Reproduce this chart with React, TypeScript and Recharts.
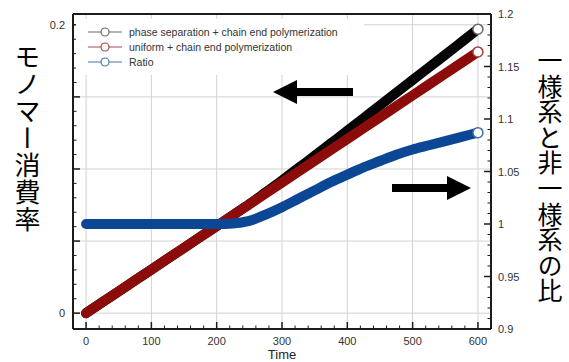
import React from 'react';
import { LineChart, Line, XAxis, YAxis, CartesianGrid, Legend } from 'recharts';

// time axis (every 25)
const times = [0, 25, 50, 75, 100, 125, 150, 175, 200, 225, 250, 275, 300, 325, 350, 375, 400, 425, 450, 475, 500, 525, 550, 575, 600];

// monomer consumption, phase separation + chain end polymerization
const phaseSeparation = [0, 0.0076, 0.0151, 0.0227, 0.0302, 0.0378, 0.0453, 0.0529, 0.0604, 0.068, 0.0757, 0.0838, 0.092, 0.1006, 0.1091, 0.1178, 0.1265, 0.1353, 0.1441, 0.153, 0.1617, 0.1705, 0.1792, 0.1881, 0.197];

// monomer consumption, uniform + chain end polymerization
const uniform = [0, 0.0076, 0.0151, 0.0227, 0.0302, 0.0378, 0.0453, 0.0529, 0.0604, 0.068, 0.0755, 0.0831, 0.0906, 0.0982, 0.1057, 0.1133, 0.1208, 0.1284, 0.1359, 0.1435, 0.151, 0.1586, 0.1661, 0.1737, 0.1812];

// ratio (right axis)
const ratio = [1, 1, 1, 1, 1, 1, 1, 1, 1, 1.0005, 1.003, 1.009, 1.016, 1.024, 1.032, 1.04, 1.047, 1.054, 1.06, 1.066, 1.071, 1.075, 1.079, 1.083, 1.087];

const xLabelTicks = [0, 100, 200, 300, 400, 500, 600];
const leftLabelTicks = [0, 0.2];
const leftGridValues = [0, 0.05, 0.1, 0.15, 0.2];
const rightLabelTicks = [0.9, 0.95, 1, 1.05, 1.1, 1.15, 1.2];

const seriesNames = [
  'phase separation + chain end polymerization',
  'uniform + chain end polymerization',
  'Ratio',
];

const leftTitle = 'モノマー消費率';
const rightTitle = '一様系と非一様系の比';

const BLACK = '#060606';
const RED = '#8c0b0b';
const BLUE = '#0c4796';
const legendColors = ['#6a6a6a', '#a84a4a', '#4a78aa'];
const endColors = ['#6a6a6a', '#b04040', '#3d6fa8'];

const AXIS = '#1c1c1c';
const FONT = '"Liberation Sans", Arial, Helvetica, sans-serif';
const JP = '"Noto Sans CJK JP", "Noto Sans CJK SC", sans-serif';

const Y_MIN = -0.011;
const Y_MAX = 0.2075;
const X_DOMAIN = [-20, 620];

// minor tick positions
const steps = (a: number, b: number, s: number) => {
  const out: number[] = [];
  for (let v = a; v <= b + s / 2; v += s) out.push(Math.round(v * 1000) / 1000);
  return out;
};
const xTicks = steps(0, 600, 20);
const leftTicks = steps(0, 0.2, 0.01);
const rightTicks = steps(0.9, 1.2, 0.01);

const isMajor = (v: number, step: number) => Math.abs(Math.round(v / step) * step - v) < 1e-6;
const fmt = (v: number) => String(+v.toFixed(2));

const rows = times.map((t, i) => ({
  t,
  phase: phaseSeparation[i],
  uniform: uniform[i],
  ratio: ratio[i],
}));

const BottomTick = (props: any) => {
  const { x, y, payload } = props;
  const v = payload.value;
  const major = isMajor(v, 100);
  return (
    <g>
      <line x1={x} x2={x} y1={y} y2={y - (major ? 7 : 3.5)} stroke={AXIS} strokeWidth={major ? 1.5 : 1} />
      {xLabelTicks.includes(v) && (
        <text x={x} y={y + 16} textAnchor="middle" fontSize={11} fill="#333" fontFamily={FONT}>
          {v}
        </text>
      )}
    </g>
  );
};

const LeftTick = (props: any) => {
  const { x, y, payload } = props;
  const v = payload.value;
  const major = isMajor(v, 0.05);
  return (
    <g>
      <line x1={x} x2={x + (major ? 7 : 3.5)} y1={y} y2={y} stroke={AXIS} strokeWidth={major ? 1.5 : 1} />
      {leftLabelTicks.some((l) => Math.abs(l - v) < 1e-6) && (
        <text x={x - 8} y={y + 4} textAnchor="end" fontSize={11} fill="#333" fontFamily={FONT}>
          {fmt(v)}
        </text>
      )}
    </g>
  );
};

const RightTick = (props: any) => {
  const { x, y, payload } = props;
  const v = payload.value;
  const major = isMajor(v, 0.05);
  return (
    <g>
      <line x1={x} x2={x - (major ? 7 : 3.5)} y1={y} y2={y} stroke={AXIS} strokeWidth={major ? 1.5 : 1} />
      {rightLabelTicks.some((l) => Math.abs(l - v) < 1e-6) && (
        <text x={x + 7} y={y + 4} textAnchor="start" fontSize={11} fill="#333" fontFamily={FONT}>
          {fmt(v)}
        </text>
      )}
    </g>
  );
};

const endDot = (stroke: string) => (props: any) => {
  const { cx, cy, index } = props;
  if (index !== times.length - 1) return <g key={`d${index}`} />;
  return <circle key={`d${index}`} cx={cx} cy={cy} r={5} fill="#fff" stroke={stroke} strokeWidth={1.5} />;
};

const LegendBox = () => (
  <div style={{ background: '#fff', padding: '5px 0 6px 12px', fontFamily: FONT }}>
    {seriesNames.map((name, i) => (
      <div key={name} style={{ display: 'flex', alignItems: 'center', height: 15 }}>
        <svg width={34} height={12} style={{ marginRight: 7 }}>
          <line x1={0} x2={34} y1={6} y2={6} stroke={legendColors[i]} strokeWidth={1.2} />
          <circle cx={17} cy={6} r={4} fill="#fff" stroke={legendColors[i]} strokeWidth={1.2} />
        </svg>
        <span style={{ fontSize: 10.5, color: '#333', whiteSpace: 'nowrap' }}>{name}</span>
      </div>
    ))}
  </div>
);

const verticalTitle = {
  position: 'absolute' as const,
  whiteSpace: 'nowrap' as const,
  writingMode: 'vertical-rl' as const,
  fontFamily: JP,
  color: '#000',
};

export default function App() {
  return (
    <div style={{ position: 'absolute', left: 0, top: 0, width: 569, height: 362, background: '#fff', overflow: 'hidden' }}>
      <LineChart width={569} height={362} data={rows} margin={{ top: 13, right: 0, bottom: 0, left: 0 }}>
        <CartesianGrid
          yAxisId="left"
          stroke="#d2d2d2"
          verticalValues={xLabelTicks}
          horizontalValues={leftGridValues}
        />
        <XAxis
          dataKey="t"
          type="number"
          domain={X_DOMAIN}
          ticks={xTicks}
          interval={0}
          height={33}
          tickSize={0}
          tickMargin={0}
          tickLine={false}
          axisLine={{ stroke: AXIS, strokeWidth: 2 }}
          tick={(p: any) => <BottomTick {...p} />}
          label={{ value: 'Time', position: 'insideBottom', offset: 3, fill: '#222', fontSize: 13, fontFamily: FONT }}
        />
        {/* top edge of the frame */}
        <XAxis
          xAxisId="top"
          orientation="top"
          dataKey="t"
          type="number"
          domain={X_DOMAIN}
          height={1}
          tick={false}
          tickLine={false}
          axisLine={{ stroke: AXIS, strokeWidth: 2 }}
        />
        <YAxis
          yAxisId="left"
          type="number"
          domain={[Y_MIN, Y_MAX]}
          ticks={leftTicks}
          interval={0}
          width={73}
          tickSize={0}
          tickMargin={0}
          tickLine={false}
          axisLine={{ stroke: AXIS, strokeWidth: 2 }}
          tick={(p: any) => <LeftTick {...p} />}
        />
        <YAxis
          yAxisId="right"
          orientation="right"
          type="number"
          domain={[0.9, 1.2]}
          ticks={rightTicks}
          interval={0}
          width={78}
          tickSize={0}
          tickMargin={0}
          tickLine={false}
          axisLine={{ stroke: AXIS, strokeWidth: 2 }}
          tick={(p: any) => <RightTick {...p} />}
        />
        <Legend
          layout="vertical"
          verticalAlign="middle"
          align="center"
          wrapperStyle={{ left: 76, top: 19, width: 288 }}
          content={() => <LegendBox />}
        />
        <Line
          yAxisId="left"
          dataKey="phase"
          type="monotone"
          stroke={BLACK}
          strokeWidth={10}
          strokeLinecap="round"
          dot={endDot(endColors[0])}
          isAnimationActive={false}
        />
        <Line
          yAxisId="left"
          dataKey="uniform"
          type="linear"
          stroke={RED}
          strokeWidth={10}
          strokeLinecap="round"
          dot={endDot(endColors[1])}
          isAnimationActive={false}
        />
        <Line
          yAxisId="right"
          dataKey="ratio"
          type="monotone"
          stroke={BLUE}
          strokeWidth={10}
          strokeLinecap="round"
          dot={endDot(endColors[2])}
          isAnimationActive={false}
        />
      </LineChart>

      {/* direction arrows */}
      <svg width={569} height={362} style={{ position: 'absolute', left: 0, top: 0, pointerEvents: 'none' }}>
        <rect x={296} y={88} width={57} height={8} fill="#000" />
        <polygon points="273,92 297,80 297,104" fill="#000" />
        <rect x={392} y={184} width={56} height={8} fill="#000" />
        <polygon points="471,188 447,176 447,200" fill="#000" />
      </svg>

      <div style={{ ...verticalTitle, left: 14, top: 44, height: 200, fontSize: 26, lineHeight: '26px', letterSpacing: 1 }}>
        {leftTitle}
      </div>
      <div style={{ ...verticalTitle, left: 537, top: 48, height: 262, fontSize: 25, lineHeight: '25px', letterSpacing: 0.6 }}>
        {rightTitle}
      </div>
    </div>
  );
}
